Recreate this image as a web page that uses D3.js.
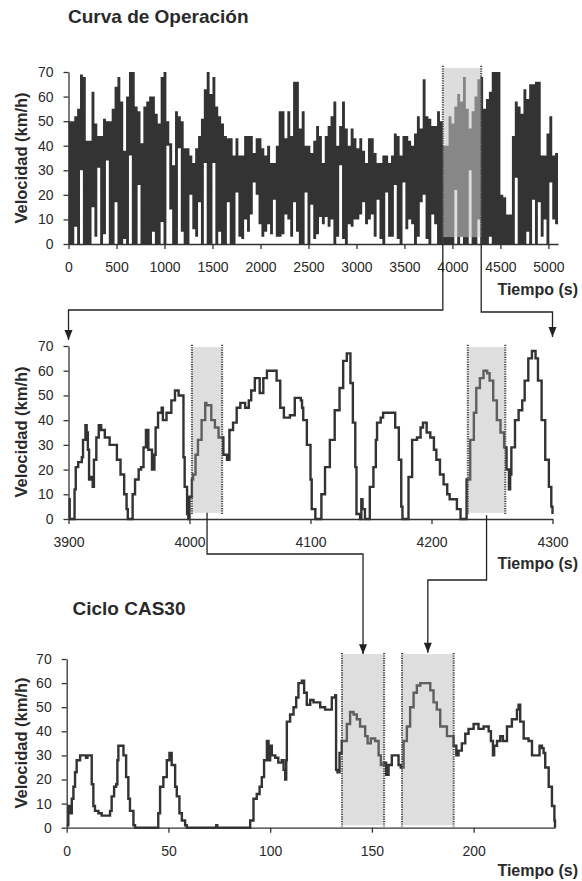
<!DOCTYPE html>
<html><head><meta charset="utf-8">
<script src="https://cdn.jsdelivr.net/npm/d3@7"></script>
<style>
body{margin:0;background:#fff;}
svg{display:block;}
text{font-family:"Liberation Sans",Arial,sans-serif;fill:#2a2a2a;}
</style></head><body>
<svg id="c" width="582" height="881"></svg>
<script>
// ---------- DATA ----------
// Operation curve (top): per 30 s bin, upper and lower speed envelope (km/h)
const binSize = 30;
const opHigh = [50,50,52,55,69,68,42,42,62,49,44,44,51,50,50,55,64,68,58,38,60,70,70,56,54,41,56,58,60,60,53,49,68,70,50,41,32,54,52,50,39,39,
  36,33,39,44,51,63,70,61,68,56,52,49,44,43,43,36,43,36,36,44,44,44,37,43,43,39,36,40,33,33,40,54,54,43,54,44,66,66,47,54,40,40,
  37,42,48,44,33,44,48,52,58,40,48,58,47,40,47,43,39,43,38,33,43,43,37,33,33,36,36,33,36,45,44,36,44,44,42,40,45,52,47,67,52,51,48,
  48,54,50,40,40,52,49,56,61,58,68,55,47,54,60,67,68,55,59,62,70,70,70,20,19,12,12,
  44,58,56,53,63,59,65,65,66,66,36,36,45,52,36,37];
const opLow = [0,0,7,0,30,0,0,0,15,3,31,0,4,34,0,0,17,0,0,2,0,36,0,0,24,0,0,0,0,5,0,0,9,0,40,14,0,0,39,5,0,0,
  20,6,3,17,0,33,0,0,33,0,5,0,0,17,0,0,21,3,2,10,5,12,25,20,8,3,5,8,4,18,3,3,4,12,10,3,17,5,0,0,21,0,
  16,2,4,11,8,11,7,10,0,3,32,2,0,8,7,10,10,12,17,8,10,12,3,18,2,0,21,3,3,24,2,0,25,6,10,8,0,3,17,20,2,0,12,
  8,0,0,0,0,0,0,22,0,3,0,0,30,0,0,10,0,0,0,3,0,0,0,0,0,0,0,
  0,27,0,0,0,5,0,18,0,17,3,10,0,25,10,8];
const opTicks = [0,500,1000,1500,2000,2500,3000,3500,4000,4500,5000];
const opWindow = [3900, 4300];

// Zoomed segment 3900-4300 s
const zoomTime = [3900,3901,3904,3905,3906,3908,3910,3911,3912,3914,3915,3916,3917,3918,3920,3921,3923,3925,3927,3930,3934,3937,3940,3943,3946,3948,3949,3951,3953,3955,3958,3960,3962,3964,3966,3969,3971,3972,3974,3977,3978,3981,3985,3988,3991,3994,3995,3996,3998,3999,
  4000,4002,4003,4005,4007,4010,4013,4014,4018,4021,4024,4028,4031,4033,4036,4039,4042,4046,4049,4051,4054,4058,4061,4064,4071,4072,4075,4078,4083,4087,4090,4092,4093,4094,4097,
  4100,4101,4104,4108,4109,4112,4116,4120,4124,4127,4130,4133,4135,4137,4138,4141,4142,4143,4145,4147,4149,4152,4154,4155,4158,4160,4167,4170,4173,4175,4176,4179,4181,4184,4188,4191,4193,4196,4199,
  4202,4204,4207,4210,4213,4215,4221,4224,4228,4229,4232,4235,4237,4240,4243,4246,4248,4251,4254,4257,4260,4262,4264,4265,4266,4269,4272,4275,4277,4280,4283,4286,4288,4291,4294,4297,4299,4300];
const zoomSpeed = [8,0,0,12,21,23,23,25,32,38,35,28,16,17,13,24,33,38,36,33,30,30,24,18,10,4,0,0,10,16,20,21,29,36,28,20,26,37,43,45,40,43,48,52,50,50,25,13,2,0,
  9,16,18,26,32,40,47,46,40,37,33,26,24,36,39,45,47,45,48,52,57,51,57,60,60,56,45,41,42,49,49,48,45,40,30,
  16,4,0,0,10,21,32,44,53,64,67,55,39,21,2,0,8,4,0,0,13,21,32,39,41,43,43,37,24,5,0,0,17,32,33,37,39,35,33,
  28,24,18,14,10,8,4,0,0,16,32,43,53,57,60,59,56,48,40,35,29,20,12,18,29,40,44,48,56,65,68,65,56,40,24,13,5,2];
const zoomTicks = [3900,4000,4100,4200,4300];
const zoomWindows = [[4002,4027],[4230,4261]];

// CAS30 cycle
const casTime = [0,0.8,1.6,2.5,3.3,4.1,4.9,6.6,8.2,9.5,10.2,11.1,12.3,13.1,13.9,15.6,17.2,19.7,21.3,22.1,23.3,24.3,24.9,25.4,27,27.9,29.2,30.3,31.1,32.8,33.6,
  44.3,45,45.9,47.5,49.2,50.5,51.6,53.3,54.1,55.4,56.6,58.2,59,73,73.5,74,89.3,90.2,91.8,93.4,94.8,95.9,97,98.4,99.2,100,100.8,102.5,104,105.7,106.6,107.4,107.9,108.2,109.8,
  111.5,112.8,113.9,115.6,116.7,118,119.7,121.3,122.9,124.6,127,129.5,130.3,132,132.4,133.1,134.1,135.2,137.7,139.3,141,142.6,144.2,146.7,147.9,149.5,151.6,153.3,154.4,155.7,157,158.2,159.8,
  161.5,163.1,164.2,165.6,167.2,168.8,170.5,172.1,173.8,177,178.7,180.3,181.9,183.6,186.9,190.1,191.5,192.6,194.2,195.9,197.5,200,202.4,204.9,207.4,208.5,209.5,210.1,211.5,213.1,214.4,
  216.4,218.8,221.3,222.1,222.9,224.6,227,228.7,231.1,232.4,233.6,234.4,235.2,236.9,238.5,239.7,240];
const casSpeed = [1,9,6,12,17,23,28,30,30,29,30,30,18,9,7,6,5,5,7,13,17,18,28,34,34,30,21,12,7,1,0,
  0,6,17,21,28,31,26,17,13,6,3,1,0,0,1,0,0,3,12,14,17,21,28,36,28,34,30,29,27,28,24,20,28,44,47,
  50,54,60,61,56,51,53,52,52,50,49,49,54,55,24,23,31,36,43,48,47,45,42,38,35,37,36,30,26,27,22,26,30,
  30,26,25,36,42,50,56,59,60,60,57,52,49,42,38,34,30,32,35,39,41,43,41,42,40,36,30,34,36,38,36,
  42,45,49,51,44,37,36,30,30,34,33,31,25,17,9,3,0];
const casTicks = [0,50,100,150,200];
const casWindows = [[135.3,156],[164.8,190.2]];

const speedTicks = [0,10,20,30,40,50,60,70];

// ---------- DRAW ----------
const svg = d3.select("#c");
const INK = "#333";

const xOp = d3.scaleLinear().domain([0,5100]).range([68.5,558]);
const yOp = d3.scaleLinear().domain([0,70]).range([244,72]);
const xZ = d3.scaleLinear().domain([3900,4300]).range([68.5,552.5]);
const yZ = d3.scaleLinear().domain([0,70]).range([519,346]);
const xC = d3.scaleLinear().domain([0,240]).range([66.7,555]);
const yC = d3.scaleLinear().domain([0,70]).range([827.7,659]);

function axes(x, y, ticks, yMid){
  const gx = svg.append("g").attr("transform",`translate(0,${y(0)})`)
    .call(d3.axisBottom(x).tickValues(ticks).tickSize(5).tickPadding(13).tickSizeOuter(0).tickFormat(d3.format("d")));
  const gy = svg.append("g").attr("transform",`translate(${x.range()[0]},0)`)
    .call(d3.axisLeft(y).tickValues(speedTicks).tickSize(5).tickPadding(10).tickSizeOuter(0));
  [gx,gy].forEach(g=>{
    g.select(".domain").attr("stroke",INK).attr("stroke-width",1.3);
    g.selectAll(".tick line").attr("stroke",INK).attr("stroke-width",1.3);
    g.selectAll(".tick text").attr("font-size",14).attr("font-family","Liberation Sans, Arial, sans-serif").attr("fill","#333");
  });
  svg.append("text").attr("transform",`translate(21.5,${yMid}) rotate(-90)`)
    .attr("text-anchor","middle").attr("dy","0.36em")
    .attr("font-size",16.5).attr("font-weight","bold").text("Velocidad (km/h)");
}
function tiempo(yb){
  svg.append("text").attr("x",578).attr("y",yb).attr("text-anchor","end")
    .attr("font-size",16).attr("font-weight","bold").text("Tiempo (s)");
}
function dottedEdges(x0,x1,yTop,yBot){
  [x0,x1].forEach(xx=>svg.append("line").attr("x1",xx).attr("x2",xx).attr("y1",yTop).attr("y2",yBot)
    .attr("stroke","#444").attr("stroke-width",2).attr("stroke-dasharray","1.2,1.2"));
}
function arrow(points){
  const line = d3.line();
  svg.append("path").attr("d",line(points)).attr("fill","none").attr("stroke","#222").attr("stroke-width",1.3);
  const [tx,ty] = points[points.length-1];
  svg.append("path").attr("d",`M${tx-4},${ty-10}L${tx+4},${ty-10}L${tx},${ty}Z`).attr("fill","#222");
}

// Titles
svg.append("text").attr("x",68).attr("y",23).attr("font-size",19).attr("font-weight","bold").text("Curva de Operación");
svg.append("text").attr("x",72.5).attr("y",615).attr("font-size",19).attr("font-weight","bold").text("Ciclo CAS30");

// ---- Chart 1 ----
const bins = opHigh.map((h,i)=>({t:i*binSize, hi:h, lo:opLow[i]}));
bins.push({t:bins.length*binSize, hi:opHigh[opHigh.length-1], lo:opLow[opLow.length-1]});
const band = d3.area().curve(d3.curveStepAfter)
  .x(d=>xOp(d.t)).y0(d=>yOp(d.lo)).y1(d=>yOp(d.hi));
svg.append("path").attr("d",band(bins)).attr("fill",INK);
svg.append("rect").attr("x",xOp(opWindow[0])).attr("width",xOp(opWindow[1])-xOp(opWindow[0]))
  .attr("y",yOp(71.6)).attr("height",yOp(2.8)-yOp(71.6))
  .attr("fill","rgb(197,197,197)").attr("fill-opacity",0.58);
dottedEdges(xOp(opWindow[0]),xOp(opWindow[1]),yOp(72.5),yOp(0));
axes(xOp,yOp,opTicks,158);
tiempo(295);

// arrows chart1 -> chart2
arrow([[xOp(opWindow[0]),yOp(0)],[xOp(opWindow[0]),310],[xZ(opWindow[0]),310],[xZ(opWindow[0]),340]]);
arrow([[xOp(opWindow[1]),yOp(0)],[xOp(opWindow[1]),312],[xZ(opWindow[1]),312],[xZ(opWindow[1]),337]]);

// ---- Chart 2 ----
zoomWindows.forEach(w=>{
  svg.append("rect").attr("x",xZ(w[0])).attr("width",xZ(w[1])-xZ(w[0]))
    .attr("y",yZ(69.5)).attr("height",yZ(2.5)-yZ(69.5)).attr("fill","#d5d5d5");
});
const zl = d3.line().curve(d3.curveStepAfter).x(d=>xZ(d[0])).y(d=>yZ(d[1]));
svg.append("path").attr("d",zl(zoomTime.map((t,i)=>[t,zoomSpeed[i]])))
  .attr("fill","none").attr("stroke","#333").attr("stroke-width",2.4);
zoomWindows.forEach(w=>{
  svg.append("rect").attr("x",xZ(w[0])).attr("width",xZ(w[1])-xZ(w[0]))
    .attr("y",yZ(69.5)).attr("height",yZ(2.5)-yZ(69.5)).attr("fill","#fff").attr("fill-opacity",0.22);
  dottedEdges(xZ(w[0]),xZ(w[1]),yZ(70.5),yZ(1.5));
});
axes(xZ,yZ,zoomTicks,432);
tiempo(569);

// arrows chart2 -> chart3
const zc1 = (zoomWindows[0][0]+zoomWindows[0][1])/2, zc2 = (zoomWindows[1][0]+zoomWindows[1][1])/2;
const cc1 = (casWindows[0][0]+casWindows[0][1])/2, cc2 = (casWindows[1][0]+casWindows[1][1])/2;
arrow([[xZ(zc1),yZ(2.5)],[xZ(zc1),554],[xC(cc1),554],[xC(cc1),yC(72)]]);
arrow([[xZ(zc2),yZ(1.5)],[xZ(zc2),580],[xC(cc2),580],[xC(cc2),yC(72.6)]]);

// ---- Chart 3 ----
casWindows.forEach(w=>{
  svg.append("rect").attr("x",xC(w[0])).attr("width",xC(w[1])-xC(w[0]))
    .attr("y",yC(72)).attr("height",yC(1)-yC(72)).attr("fill","#d5d5d5");
});
const cl = d3.line().curve(d3.curveStepAfter).x(d=>xC(d[0])).y(d=>yC(d[1]));
svg.append("path").attr("d",cl(casTime.map((t,i)=>[t,casSpeed[i]])))
  .attr("fill","none").attr("stroke","#333").attr("stroke-width",2.4);
casWindows.forEach(w=>{
  svg.append("rect").attr("x",xC(w[0])).attr("width",xC(w[1])-xC(w[0]))
    .attr("y",yC(72)).attr("height",yC(1)-yC(72)).attr("fill","#fff").attr("fill-opacity",0.22);
  dottedEdges(xC(w[0]),xC(w[1]),yC(72.5),yC(0.5));
});
axes(xC,yC,casTicks,743);
tiempo(876);
</script>
</body></html>
